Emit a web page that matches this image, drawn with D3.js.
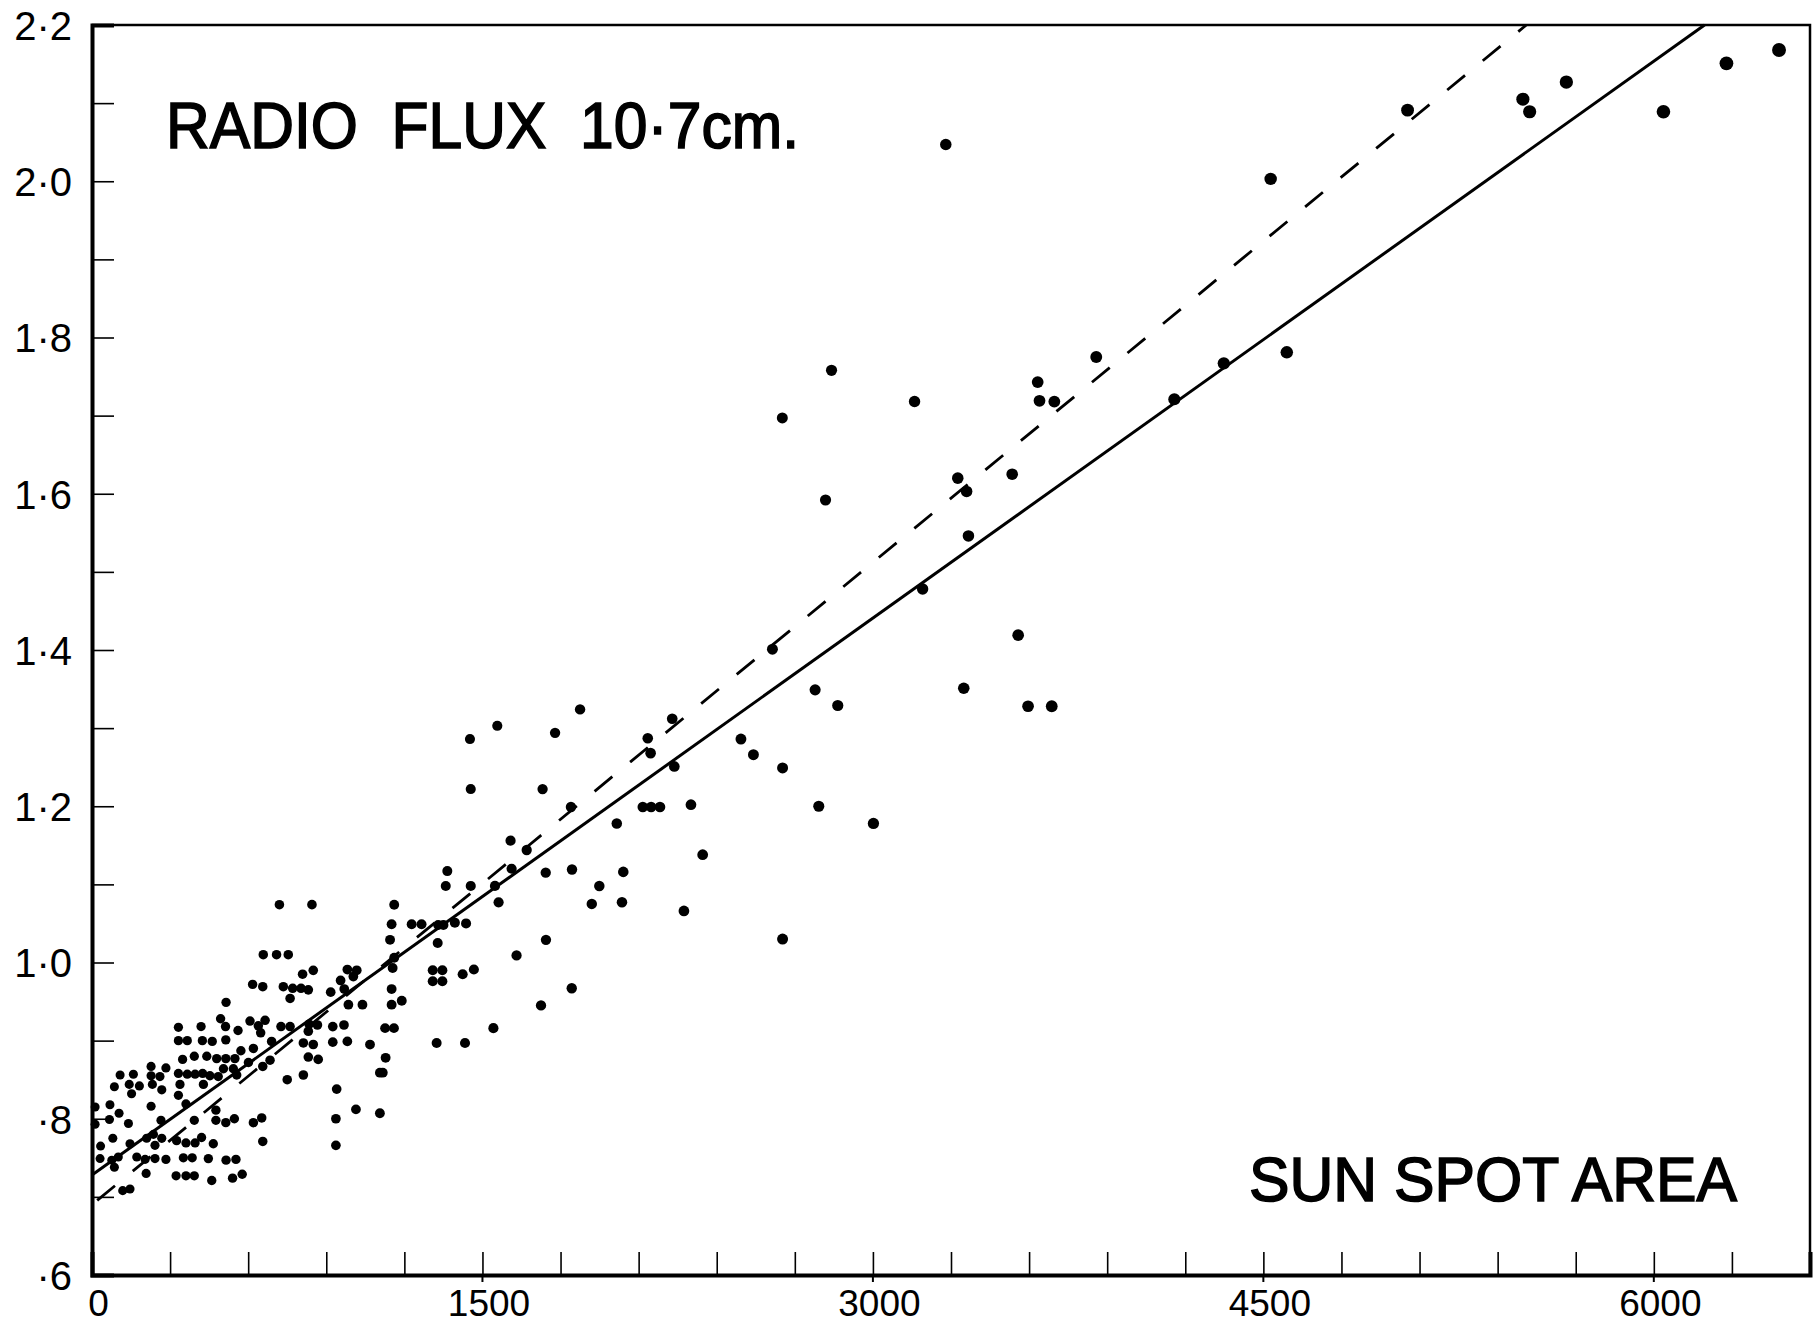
<!DOCTYPE html>
<html>
<head>
<meta charset="utf-8">
<script src="https://cdn.jsdelivr.net/npm/d3@7"></script>
<style>
  html, body { margin: 0; padding: 0; background: #fff; }
  svg { display: block; }
  text { font-family: "Liberation Sans", Arial, sans-serif; fill: #000; }
</style>
</head>
<body>
<div class="chart"></div>
<script>
// sun spot area (x) and 10.7 cm radio flux (y)
const sunSpotArea = [
  515, 494, 513, 607, 561, 332, 419, 332, 366, 424, 462, 514, 393, 441, 348, 479, 514, 549, 572, 601,
  108, 159, 227, 227, 232, 261, 284, 332, 338, 366, 396, 425, 453, 485, 505, 543, 556, 143, 182, 152,
  86, 268, 428, 332, 227, 361, 69, 12, 12, 67, 104, 140, 265, 393, 476, 476, 514, 547, 80, 33,
  146, 210, 236, 268, 242, 325, 361, 396, 421, 466, 31, 76, 101, 86, 172, 204, 242, 284, 208, 351,
  385, 447, 515, 553, 323, 361, 393, 460, 540, 577, 118, 146,
  720, 845, 1161, 1151, 1228, 1145, 658, 709, 754, 809, 850, 981, 1017, 1004, 617, 656, 735, 771, 803, 831,
  761, 917, 955, 969, 1151, 1161, 1155, 1151, 1190, 985, 1039, 665, 639, 648, 726, 761, 834, 866, 831, 925,
  968, 1126, 1160, 690, 620, 812, 850, 925, 981, 1068, 684, 656, 831, 869, 1128, 750, 812, 1106, 1117, 940,
  620, 652, 656, 937, 1014, 1106, 937,
  1875, 1557, 1779, 1452, 1455, 1731, 1840, 1608, 1670, 1612, 1743, 1844, 1949, 1920, 1365, 1359, 1455, 1548, 1562, 1266,
  1330, 1350, 1394, 1437, 1328, 1744, 1631, 1309, 1346, 1309, 1346, 1424, 1467, 1843, 1725, 1542, 1324, 1433,
  2614, 2229, 2135, 2146, 2237, 2493, 2541, 2653, 2778, 2865, 2116, 2148, 2182, 2301, 2016, 2346, 2792, 3002, 2041, 2036,
  2274, 2653,
  2841, 2652, 3160, 3633, 3640, 3697, 3858, 4348, 4158, 2818, 3326, 3360, 3535, 3367, 3191, 3558, 3349, 3596, 3687,
  4528, 5054, 5497, 5523, 5664, 6037, 6279, 6481, 4590, 3280
]
const radioFlux = [
  0.949, 0.928, 0.918, 0.925, 0.913, 0.917, 0.918, 0.900, 0.900, 0.900, 0.899, 0.901, 0.880, 0.880, 0.876, 0.877, 0.877, 0.877, 0.887, 0.872,
  0.856, 0.857, 0.867, 0.855, 0.844, 0.854, 0.865, 0.858, 0.844, 0.857, 0.857, 0.858, 0.855, 0.854, 0.864, 0.864, 0.856, 0.844, 0.842, 0.832,
  0.841, 0.837, 0.844, 0.830, 0.816, 0.819, 0.818, 0.815, 0.793, 0.799, 0.807, 0.794, 0.798, 0.798, 0.811, 0.798, 0.795, 0.800, 0.775, 0.765,
  0.768, 0.775, 0.780, 0.775, 0.766, 0.772, 0.769, 0.769, 0.776, 0.768, 0.749, 0.747, 0.751, 0.738, 0.751, 0.748, 0.749, 0.748, 0.730, 0.750,
  0.750, 0.749, 0.747, 0.748, 0.727, 0.727, 0.727, 0.721, 0.724, 0.729, 0.708, 0.710,
  1.074, 1.074, 1.074, 1.049, 1.049, 1.029, 1.010, 1.010, 1.010, 0.985, 0.990, 0.991, 0.990, 0.982, 0.972, 0.969, 0.969, 0.967, 0.967, 0.965,
  0.954, 0.962, 0.977, 0.966, 0.966, 1.006, 0.993, 0.946, 0.951, 0.946, 0.946, 0.926, 0.919, 0.910, 0.918, 0.918, 0.921, 0.920, 0.912, 0.918,
  0.920, 0.916, 0.916, 0.899, 0.890, 0.897, 0.895, 0.898, 0.899, 0.895, 0.875, 0.867, 0.879, 0.876, 0.878, 0.850, 0.856, 0.859, 0.859, 0.838,
  0.795, 0.801, 0.771, 0.800, 0.812, 0.807, 0.766,
  1.324, 1.303, 1.294, 1.286, 1.222, 1.222, 1.199, 1.156, 1.144, 1.120, 1.115, 1.119, 1.098, 1.075, 1.117, 1.098, 1.098, 1.098, 1.077, 1.049,
  1.048, 1.048, 1.051, 1.050, 1.025, 1.029, 1.009, 0.990, 0.990, 0.976, 0.976, 0.985, 0.991, 0.967, 0.945, 0.916, 0.897, 0.897,
  1.401, 1.312, 1.287, 1.268, 1.251, 1.286, 1.266, 1.249, 1.349, 1.329, 1.199, 1.199, 1.199, 1.202, 1.178, 1.138, 1.200, 1.178, 1.116, 1.077,
  1.066, 1.030,
  1.758, 1.697, 1.718, 1.743, 1.719, 1.718, 1.775, 1.767, 1.721, 1.592, 1.620, 1.603, 1.625, 1.546, 1.478, 1.419, 1.351, 1.328, 1.328,
  2.003, 2.091, 2.105, 2.089, 2.127, 2.089, 2.151, 2.168, 1.781, 2.047
]

// the two fitted lines, end points
const solidFitArea = [0, 6195]
const solidFitFlux = [0.728, 2.2]
const dashedFitArea = [20, 5510]
const dashedFitFlux = [0.6955, 2.2]

// axis ticks and labels
const xMinorTicks = d3.range(0, 6601, 300)
const xLabelValues = [0, 1500, 3000, 4500, 6000]
const xLabelText = ['0', '1500', '3000', '4500', '6000']
const yMinorTicks = [0.6, 0.7, 0.8, 0.9, 1.0, 1.1, 1.2, 1.3, 1.4, 1.5, 1.6, 1.7, 1.8, 1.9, 2.0, 2.1, 2.2]
const yLabelValues = [0.6, 0.8, 1.0, 1.2, 1.4, 1.6, 1.8, 2.0, 2.2]
const yLabelText = ['·6', '·8', '1·0', '1·2', '1·4', '1·6', '1·8', '2·0', '2·2']

const titleText = 'RADIO  FLUX  10·7cm.'
const xTitleText = 'SUN SPOT AREA'

function drawChart() {
    const dimensions = {
        width: 1815,
        height: 1330,
        margin: { top: 25, right: 5, bottom: 55, left: 92 }
    }
    const innerRight = dimensions.width - dimensions.margin.right
    const innerBottom = dimensions.height - dimensions.margin.bottom

    const x = d3.scaleLinear().domain([0, 6600]).range([dimensions.margin.left, innerRight])
    const y = d3.scaleLinear().domain([0.6, 2.2]).range([innerBottom, dimensions.margin.top])
    // dots get a bit bigger toward the right, as in the drawing
    const r = d3.scaleLinear().domain([0, 6600]).range([4.5, 7])

    const svg = d3.select('.chart')
        .append('svg')
        .attr('width', dimensions.width)
        .attr('height', dimensions.height)

    // top and right frame, thinner than the axes
    svg.append('path')
        .attr('d', `M${x(0)},${y(2.2)} H${x(6600)} V${y(0.6)}`)
        .attr('fill', 'none')
        .attr('stroke', '#000')
        .attr('stroke-width', 2.5)

    // y axis, ticks pointing inward
    const yLabelMap = new Map(yLabelValues.map((v, i) => [v.toFixed(1), yLabelText[i]]))
    const yAxis = svg.append('g')
        .attr('transform', `translate(${x(0)},0)`)
        .call(d3.axisLeft(y)
            .tickValues(yMinorTicks)
            .tickSize(-22)
            .tickPadding(20)
            .tickFormat(d => yLabelMap.get(d.toFixed(1)) || ''))
    yAxis.select('.domain').attr('stroke-width', 4)
    yAxis.selectAll('.tick line').attr('stroke-width', 1.6)
    yAxis.selectAll('.tick text')
        .attr('font-size', 40)
        .attr('dy', '0.36em')

    // x axis, ticks pointing inward
    const xLabelMap = new Map(xLabelValues.map((v, i) => [v, xLabelText[i]]))
    const xAxis = svg.append('g')
        .attr('transform', `translate(0,${y(0.6)})`)
        .call(d3.axisBottom(x)
            .tickValues(xMinorTicks)
            .tickSize(-23)
            .tickPadding(15)
            .tickFormat(d => xLabelMap.get(d) || ''))
    xAxis.select('.domain').attr('stroke-width', 4)
    xAxis.selectAll('.tick line').attr('stroke-width', 1.6)
    xAxis.selectAll('.tick text')
        .attr('font-size', 37)
        .attr('dx', 6)

    // major ticks poke a little below the axis
    svg.append('g')
        .selectAll('line')
        .data(xLabelValues.slice(1))
        .join('line')
        .attr('x1', d => x(d))
        .attr('x2', d => x(d))
        .attr('y1', y(0.6))
        .attr('y2', y(0.6) + 7)
        .attr('stroke', '#000')
        .attr('stroke-width', 2)

    // fitted lines
    const line = d3.line()
        .x(d => x(d[0]))
        .y(d => y(d[1]))

    svg.append('path')
        .datum(d3.zip(solidFitArea, solidFitFlux))
        .attr('d', line)
        .attr('fill', 'none')
        .attr('stroke', '#000')
        .attr('stroke-width', 3)

    svg.append('path')
        .datum(d3.zip(dashedFitArea, dashedFitFlux))
        .attr('d', line)
        .attr('fill', 'none')
        .attr('stroke', '#000')
        .attr('stroke-width', 2.8)
        .attr('stroke-dasharray', '23,23')

    // observations
    svg.append('g')
        .selectAll('circle')
        .data(d3.zip(sunSpotArea, radioFlux))
        .join('circle')
        .attr('cx', d => x(d[0]))
        .attr('cy', d => y(d[1]))
        .attr('r', d => r(d[0]))
        .attr('fill', '#000')

    // lettering: heavier stroke to get the stencil look
    svg.append('text')
        .attr('x', 166)
        .attr('y', 148)
        .attr('font-size', 64)
        .attr('textLength', 633)
        .attr('lengthAdjust', 'spacingAndGlyphs')
        .attr('stroke', '#000')
        .attr('stroke-width', 1.6)
        .style('white-space', 'pre')
        .text(titleText)

    svg.append('text')
        .attr('x', 1249)
        .attr('y', 1201)
        .attr('font-size', 63)
        .attr('textLength', 488)
        .attr('lengthAdjust', 'spacingAndGlyphs')
        .attr('stroke', '#000')
        .attr('stroke-width', 1.6)
        .style('white-space', 'pre')
        .text(xTitleText)
}

drawChart()
</script>
</body>
</html>
